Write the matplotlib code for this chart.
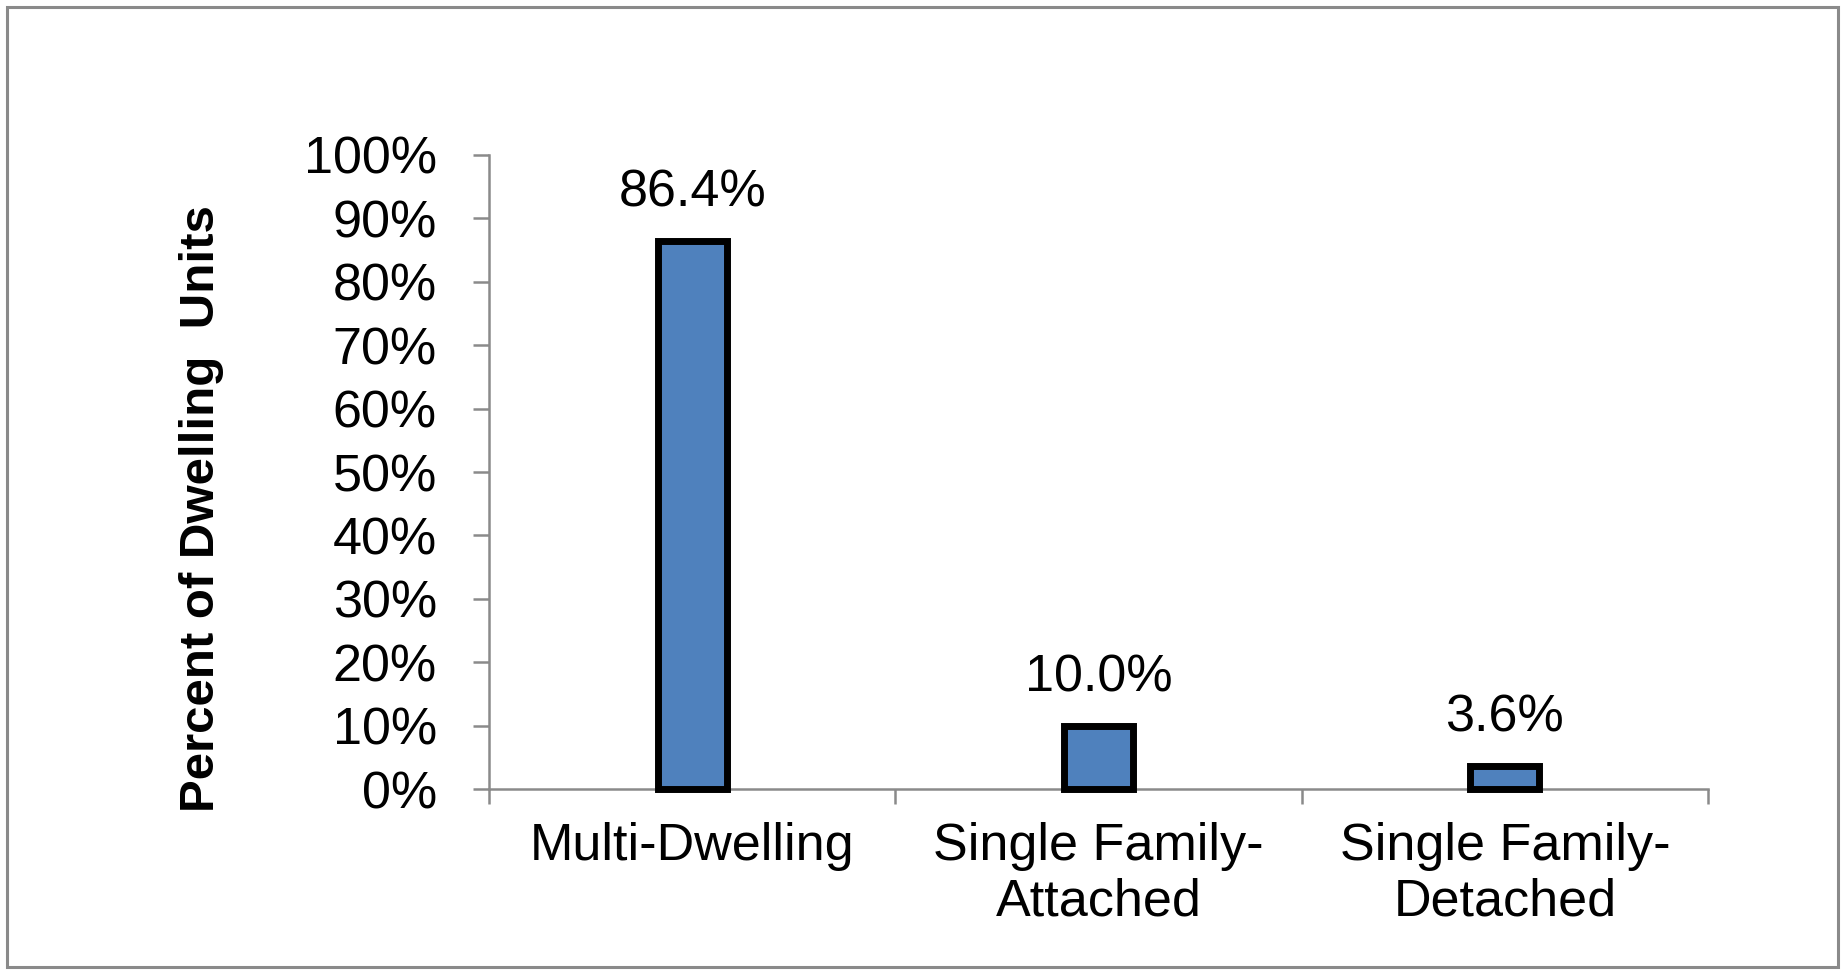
import matplotlib
matplotlib.use("Agg")
import matplotlib.pyplot as plt
from matplotlib.patches import Rectangle
from matplotlib.ticker import MultipleLocator, FuncFormatter

categories = ["Multi-Dwelling", "Single Family-\nAttached", "Single Family-\nDetached"]
shares = [86.4, 10.0, 3.6]
value_labels = ["86.4%", "10.0%", "3.6%"]

plt.rcParams["font.family"] = ["Liberation Sans", "DejaVu Sans"]

W, H = 1844, 971
fig = plt.figure(figsize=(W / 100, H / 100), dpi=100)
fig.patch.set_facecolor("white")

# outer frame around the whole chart
fig.patches.append(Rectangle((7 / W, 4 / H), (1838 - 7) / W, (967 - 7) / H,
                             transform=fig.transFigure, fill=False,
                             edgecolor="#8a8a8a", linewidth=2.2))

left, right, top, bottom = 489, 1708, 155, 789
ax = fig.add_axes([left / W, 1 - bottom / H, (right - left) / W, (bottom - top) / H])

x = range(len(categories))
bars = ax.bar(x, shares, width=0.17, color="#4F81BD", edgecolor="black",
              linewidth=5.0, zorder=3)
for b in bars:
    b.set_clip_on(False)

for xi, v, lab in zip(x, shares, value_labels):
    ax.annotate(lab, (xi, v), xytext=(0, 34.5), textcoords="offset points",
                ha="center", va="center", fontsize=37.5, color="black")

ax.set_xlim(-0.5, len(categories) - 0.5)
ax.set_ylim(0, 100)
ax.yaxis.set_major_locator(MultipleLocator(10))
ax.yaxis.set_major_formatter(FuncFormatter(lambda v, p: f"{v:.0f}%"))

ax.set_xticks([i - 0.5 for i in range(len(categories) + 1)])
ax.set_xticklabels([])
ax.set_xticks(list(x), minor=True)
ax.set_xticklabels(categories, minor=True, fontsize=37.5, linespacing=1.17)
ax.tick_params(axis="x", which="minor", length=0, pad=24)
ax.tick_params(axis="x", which="major", length=11, width=1.8, color="#8a8a8a")
ax.tick_params(axis="y", length=11.5, width=1.8, color="#8a8a8a", labelsize=37.5, pad=26)

for side in ("top", "right"):
    ax.spines[side].set_visible(False)
for side in ("left", "bottom"):
    ax.spines[side].set_color("#8a8a8a")
    ax.spines[side].set_linewidth(1.8)

fig.text(202 / W, 1 - 509 / H, "Percent of Dwelling  Units", rotation=90,
         ha="center", va="center", fontsize=35.5, fontweight="bold")

fig.savefig("out.png", dpi=100)
